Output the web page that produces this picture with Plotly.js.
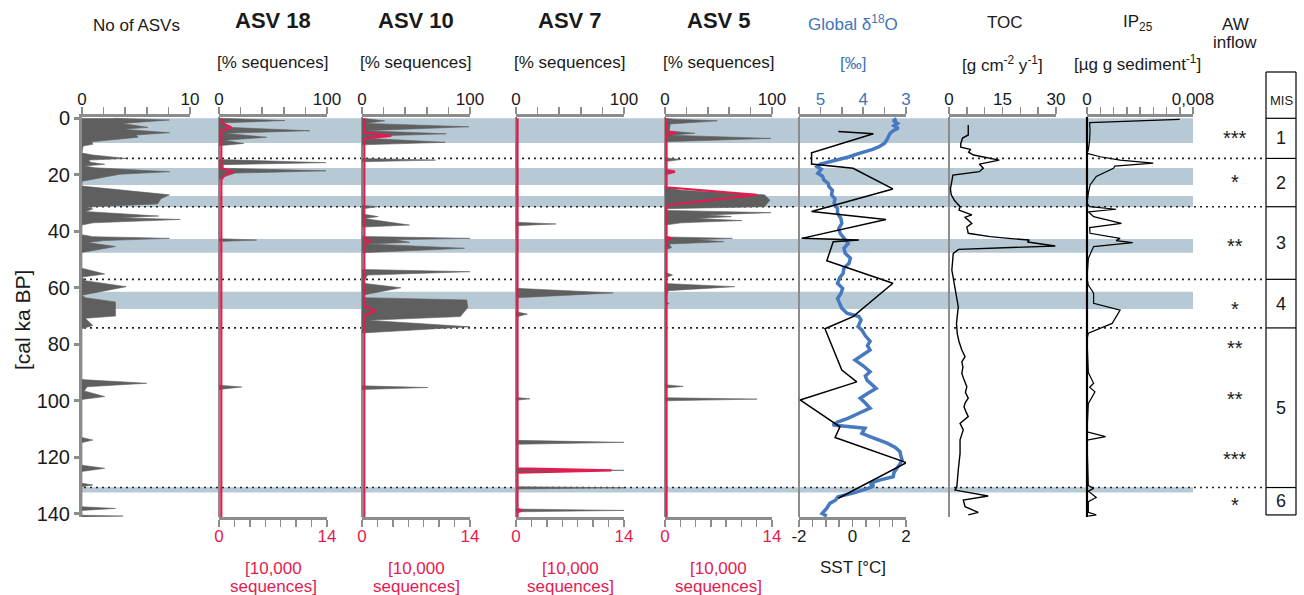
<!DOCTYPE html>
<html><head><meta charset="utf-8">
<script src="https://cdn.plot.ly/plotly-3.0.1.min.js"></script>
<style>html,body{margin:0;padding:0;background:#fff}#chart{width:1304px;height:595px}</style>
</head><body><div id="chart"></div>
<script>
// ---------------- DATA ----------------
const depthTicks = [0, 20, 40, 60, 80, 100, 120, 140];

// No of ASVs
const nAsvDepth = [0, 0.6, 1.8, 3.2, 3.9, 5.1, 5.9, 6.7, 8.3, 9.2, 9.8, 12.3, 13.0, 14.2, 14.8, 15.6, 16.3, 16.9, 17.5, 18.9, 19.8, 21.5, 22.3, 24.0, 27.1, 28.5, 30.3, 31.4, 32.1, 33.0, 34.6, 35.2, 35.8, 37.0, 37.8, 41.2, 41.9, 42.5, 43.3, 44.0, 45.4, 47.5, 53.1, 55.1, 56.2, 57.5, 59.6, 62.6, 63.5, 65.0, 70.0, 70.8, 73.3, 74.5, 92.5, 93.8, 95.0, 96.5, 98.5, 99.5, 113.0, 113.9, 114.8, 122.8, 123.9, 125.0, 129.2, 129.8, 130.4, 137.5, 138.1, 138.8, 140.5, 140.8, 141.1];
const nAsvVal   = [3.0, 8.1, 3.7, 6.1, 3.8, 8.1, 5.0, 5.2, 0.9, 1.0, 0.1, 0, 1.0, 4.1, 0.6, 0.8, 2.1, 0.2, 1.2, 8.1, 3.5, 1.0, 0, 0, 8.1, 7.3, 7.0, 0.5, 1.0, 0.3, 7.1, 3.5, 9.1, 1.0, 0, 0, 1.0, 8.1, 2.0, 0.5, 3.1, 0, 0, 2.1, 0, 0.3, 4.1, 0, 0.3, 3.1, 3.1, 0.3, 1.0, 0, 0, 6.0, 0.5, 0.2, 2.1, 0, 0, 1.0, 0, 0, 2.1, 0, 0, 1.0, 0, 0, 3.1, 0, 0, 3.8, 0];

// ASV 18
const asv18Depth = [0, 0.8, 1.6, 3.2, 4.4, 5.3, 6.7, 7.8, 8.9, 9.7, 14.6, 15.7, 16.4, 17.7, 18.6, 19.4, 20.5, 21.8, 42.6, 43.1, 43.6, 94.5, 95.1, 96.0];
const asv18Pct   = [0, 61, 5, 8, 84, 5, 44, 5, 23, 0, 0, 99, 4, 4, 99, 15, 6, 0, 0, 35, 0, 0, 21, 0];
const asv18SeqDepth = [0, 1.8, 3.2, 4.4, 17.7, 18.9, 20.1, 21.8, 141.1];
const asv18Seq      = [0.35, 0.4, 1.6, 0.3, 0.3, 1.9, 0.7, 0.3, 0.3];

// ASV 10
const asv10Depth = [0, 0.9, 1.8, 3.0, 4.4, 5.5, 6.2, 7.1, 8.5, 9.4, 14.2, 14.8, 15.4, 30.8, 31.3, 32.0, 34.0, 34.8, 35.5, 37.8, 38.5, 41.8, 42.5, 43.0, 43.9, 44.5, 46.0, 47.6, 53.5, 54.3, 55.5, 58.4, 60.0, 62.6, 63.5, 64.3, 67.0, 70.2, 71.5, 73.8, 76.0, 94.7, 95.3, 96.0];
const asv10Pct   = [0, 21, 3, 99, 3, 78, 18, 4, 77, 0, 0, 68, 0, 0, 14, 1, 2, 15, 2, 44, 0, 0, 100, 30, 44, 5, 95, 0, 0, 100, 5, 1, 36, 0, 3, 97, 98, 91, 5, 100, 0, 0, 61, 0];
const asv10SeqDepth = [0, 5.0, 6.2, 7.1, 42.8, 43.4, 44.0, 66.5, 68.2, 69.8, 141.1];
const asv10Seq      = [0.3, 0.3, 3.8, 0.3, 0.3, 1.25, 0.3, 0.3, 1.8, 0.3, 0.3];

// ASV 7
const asv7Depth = [0, 36.8, 37.4, 38.0, 60.2, 61.8, 63.5, 68.5, 69.3, 70.3, 98.8, 99.3, 99.8, 114.0, 114.7, 115.4, 124.0, 124.6, 125.2, 130.4, 130.8, 131.2, 138.3, 138.8, 139.3];
const asv7Pct   = [0, 0, 37, 0, 0, 90, 1, 0, 10.5, 0, 0, 13, 0, 0, 100, 0, 0, 100, 0, 0, 100, 0, 0, 100, 0];
const asv7SeqDepth = [0, 123.9, 124.6, 125.4, 138.2, 138.8, 139.4, 141.1];
const asv7Seq      = [0.2, 0.2, 12.4, 0.2, 0.2, 0.8, 0.2, 0.2];

// ASV 5
const asv5Depth = [0, 0.3, 0.9, 2.0, 4.5, 5.3, 6.0, 7.1, 8.3, 14.0, 14.6, 15.3, 18.2, 18.9, 19.8, 24.4, 25.5, 27.1, 29.0, 31.3, 32.0, 32.6, 33.4, 34.2, 34.8, 35.5, 36.2, 37.0, 37.8, 42.0, 42.5, 43.0, 43.7, 44.5, 45.8, 46.5, 54.5, 55.5, 56.5, 58.5, 59.6, 61.0, 65.0, 65.5, 66.0, 94.3, 94.9, 95.5, 98.9, 99.4, 100.0];
const asv5Pct   = [0, 8, 49, 5, 4, 28, 5, 99, 0, 0, 15, 0, 0, 9, 0, 0, 15, 93, 98, 93, 0, 2, 99, 40, 62, 30, 72, 15, 0, 0, 63, 30, 55, 4, 6, 0, 0, 7, 0, 0, 65, 3, 0, 4, 0, 0, 17, 0, 0, 86, 0];
const asv5SeqDepth = [0, 4.6, 5.2, 5.8, 18.3, 18.9, 19.7, 24.4, 27.1, 30.7, 31.5, 42.0, 42.5, 43.0, 141.1];
const asv5Seq      = [0.2, 0.2, 1.5, 0.2, 0.2, 1.3, 0.2, 0.2, 12.0, 0.4, 0.2, 0.2, 0.9, 0.2, 0.2];

// Global d18O (permil)
const d18Depth = [0.2, 0.8, 1.8, 2.6, 3.5, 4.4, 5.3, 6.5, 7.7, 8.8, 10.0, 11.0, 11.8, 12.7, 13.6, 14.5, 15.4, 16.2, 17.1, 18.0, 19.5, 20.5, 21.8, 23.0, 24.2, 25.5, 27.1, 28.5, 30.1, 32.0, 33.6, 35.5, 37.2, 39.0, 40.7, 42.5, 44.3, 46.0, 47.8, 49.5, 51.3, 53.0, 54.9, 56.5, 58.4, 60.2, 62.0, 63.8, 65.5, 67.2, 69.0, 70.2, 71.4, 73.7, 75.0, 77.0, 78.9, 80.5, 82.0, 83.8, 85.6, 87.6, 89.7, 91.2, 92.7, 94.2, 95.6, 97.4, 99.1, 100.8, 102.6, 104.4, 106.2, 107.5, 108.6, 109.7, 111.5, 113.2, 115.0, 116.5, 118.0, 119.5, 121.0, 122.5, 123.9, 125.4, 126.9, 128.0, 129.2, 130.1, 131.0, 132.5, 134.0, 135.2, 136.3, 138.0, 139.9, 140.8];
const d18Val   = [3.22, 3.3, 3.2, 3.28, 3.18, 3.3, 3.37, 3.4, 3.45, 3.5, 3.62, 3.78, 3.98, 4.15, 4.32, 4.55, 4.85, 5.0, 5.08, 4.98, 5.06, 4.95, 4.92, 4.82, 4.8, 4.72, 4.74, 4.66, 4.68, 4.6, 4.6, 4.52, 4.5, 4.57, 4.54, 4.45, 4.35, 4.45, 4.42, 4.3, 4.33, 4.45, 4.47, 4.55, 4.6, 4.48, 4.52, 4.6, 4.54, 4.5, 4.38, 4.1, 4.05, 4.12, 4.03, 3.95, 3.84, 3.9, 3.84, 4.0, 4.19, 4.0, 3.84, 3.95, 3.91, 3.8, 3.7, 3.9, 4.07, 3.95, 3.84, 4.1, 4.36, 4.6, 4.71, 3.96, 4.03, 3.75, 3.44, 3.25, 3.14, 3.12, 3.09, 3.15, 3.21, 3.28, 3.3, 3.6, 3.84, 3.75, 3.89, 4.2, 4.59, 4.65, 4.78, 4.85, 4.96, 4.85];

// SST (deg C)
const sstDepth = [4.7, 5.5, 12.2, 16.2, 17.7, 25.0, 33.0, 35.8, 42.5, 43.1, 43.7, 50.4, 58.4, 70.2, 74.5, 89.1, 93.3, 99.7, 109.2, 113.0, 121.9, 134.5];
const sstVal   = [-0.53, 0.78, -1.53, -1.53, 0.02, 1.51, -1.53, 1.25, -1.9, 0.24, -0.72, -0.96, 1.51, 0.02, -1.03, -0.4, 0.16, -1.96, -0.47, -0.65, 2.02, -0.53];

// TOC (g cm-2 y-1)
const tocDepth = [2.4, 5.9, 7.0, 9.0, 10.2, 11.0, 12.0, 13.0, 14.8, 16.2, 17.7, 18.9, 20.1, 22.0, 25.0, 27.0, 29.0, 31.3, 32.5, 34.2, 35.0, 37.2, 38.5, 40.7, 41.9, 42.6, 43.1, 43.8, 44.3, 45.2, 46.4, 47.8, 53.7, 59.6, 66.7, 72.6, 76.1, 79.0, 82.0, 84.4, 86.2, 88.0, 90.3, 92.5, 95.0, 97.0, 99.1, 100.5, 102.1, 104.0, 105.6, 108.0, 110.3, 113.8, 118.6, 124.5, 130.4, 131.6, 133.7, 135.1, 137.5, 139.5, 140.4];
const tocVal   = [5.4, 5.4, 3.8, 3.3, 3.3, 6.0, 5.5, 6.9, 14.1, 8.5, 9.6, 8.5, 1.1, 0.9, 0.4, 0.6, 1.5, 3.1, 2.8, 6.4, 4.5, 6.4, 5.0, 5.4, 11.5, 17.5, 22.5, 22.0, 24.8, 29.8, 2.7, 1.2, 0.8, 1.7, 2.6, 2.1, 2.3, 2.8, 3.6, 4.5, 3.6, 3.9, 3.6, 4.2, 5.0, 4.6, 5.4, 4.6, 4.2, 4.8, 5.4, 3.1, 4.0, 3.1, 3.1, 2.6, 2.2, 1.7, 11.0, 4.0, 4.5, 8.2, 5.4];

// IP25 (ug g sediment-1)
const ipDepth = [0.35, 1.55, 4.1, 7.7, 11.2, 12.4, 13.6, 14.8, 15.9, 16.9, 17.7, 20.6, 23.6, 26.5, 30.1, 31.3, 32.2, 33.1, 34.8, 37.2, 38.7, 40.7, 42.5, 43.3, 44.0, 44.7, 45.4, 49.6, 56.6, 59.0, 61.9, 65.5, 67.9, 72.6, 76.1, 78.1, 90.0, 93.8, 95.2, 96.8, 101.0, 111.0, 112.7, 113.9, 130.0, 131.0, 132.0, 134.2, 135.7, 139.5, 140.4, 140.8];
const ipVal   = [0.0070, 0.0002, 0.00023, 0.0002, 0.0001, 0.0, 0.001, 0.0025, 0.0050, 0.0021, 0.002, 0.0007, 0.00023, 0.0001, 0.0, 0.0002, 0.0022, 0.0001, 0.0005, 0.0026, 0.0002, 0.00023, 0.0025, 0.0022, 0.00345, 0.0021, 0.0005, 0.0001, 0.0, 0.0001, 0.0005, 0.0005, 0.0025, 0.0019, 0.0001, 0.0, 0.0001, 0.0005, 0.0002, 0.0006, 0.0001, 0.0, 0.0014, 0.0, 0.0001, 0.0005, 0.0001, 0.0007, 0.0001, 0.0001, 0.0007, 0.0001];

// shaded intervals, boundaries, MIS, AW inflow
const bandStart = [0, 17.6, 27.5, 42.7, 61.4, 130.6];
const bandEnd   = [8.7, 23.6, 31.4, 47.6, 67.5, 132.5];
const dottedDepth = [14.2, 31.3, 57.0, 74.2, 130.7];
const misBounds = [0, 14.2, 31.3, 57.0, 74.2, 130.7, 140.4];
const misLabels = ['1', '2', '3', '4', '5', '6'];
const awDepth = [6.3, 21.8, 44.5, 66.8, 80.6, 98.6, 119.8, 136.2];
const awStars = ['***', '*', '**', '*', '**', '**', '***', '*'];

// ---------------- STYLE / LAYOUT ----------------
const W = 1304, PT = 117, PB = 517;
const FONT = 'Liberation Sans, Arial, Helvetica, sans-serif';
const GREY = '#5f5f5f', RED = '#e31c4f', BLUE = '#3e74ba', BLUEL = '#4679bf', AXIS = '#8c8c8c', BAND = '#b6c9d4', INK = '#1a1a1a';
const py = p => (PB - p) / (PB - PT);
const dom = (a, b) => [a / W, b / W];

function ax(extra) {
  return Object.assign({
    showgrid: false, zeroline: false, showline: true, linecolor: AXIS, linewidth: 3,
    ticks: 'outside', ticklen: 7, tickwidth: 1.5, tickcolor: AXIS, ticklabelstandoff: -5,
    tickfont: {size: 17, color: INK}, anchor: 'y', fixedrange: true
  }, extra);
}
const range = (a, b, s) => { const r = []; for (let v = a; v <= b + 1e-9; v += s) r.push(+v.toFixed(6)); return r; };
const ends = (n, first, last) => { const t = Array(n).fill(''); t[0] = first; t[n - 1] = last; return t; };

const pctTicks = range(0, 100, 20), seqTicks = range(0, 14, 2);
const asvPanels = [
  {name: 'ASV 18', dom: dom(219, 327)},
  {name: 'ASV 10', dom: dom(362, 470)},
  {name: 'ASV 7', dom: dom(516, 624)},
  {name: 'ASV 5', dom: dom(665, 772)}
];

const layout = {
  width: 1304, height: 595, margin: {l: 0, r: 0, t: PT, b: 595 - PB},
  paper_bgcolor: '#ffffff', plot_bgcolor: 'rgba(0,0,0,0)', showlegend: false,
  font: {family: FONT, color: INK},
  yaxis: {domain: [0, 1], range: [141.13, -0.46], anchor: 'x', showline: true, linecolor: AXIS, linewidth: 3,
          ticks: 'outside', ticklen: 5, tickwidth: 3, tickcolor: AXIS, tickvals: depthTicks,
          tickfont: {size: 20, color: INK}, showgrid: false, zeroline: false, fixedrange: true},
  xaxis: ax({domain: dom(82, 190), range: [0, 10], side: 'top', tickvals: range(0, 10, 2), ticktext: ends(6, '0', '10')}),
  xaxis10: ax({domain: dom(799, 906), range: [5.5, 3], side: 'top', tickvals: range(3, 5.5, 0.5), ticktext: ['3', '', '4', '', '5', ''], tickfont: {size: 17, color: BLUE}}),
  xaxis11: ax({overlaying: 'x10', range: [-2, 2], side: 'bottom', tickvals: range(-2, 2, 0.5), ticktext: ['-2', '', '', '', '0', '', '', '', '2']}),
  xaxis12: ax({domain: dom(949, 1056), range: [0, 30], side: 'top', tickvals: range(0, 30, 5), ticktext: ['0', '', '', '15', '', '', '30']}),
  xaxis13: ax({domain: dom(1087, 1193), range: [0, 0.008], side: 'top', tickvals: range(0, 0.008, 0.001), ticktext: ends(9, '0', '0,008')}),
  shapes: [], annotations: []
};
asvPanels.forEach((p, i) => {
  const top = 2 + 2 * i, bot = 3 + 2 * i;
  layout['xaxis' + top] = ax({domain: p.dom, range: [0, 100], side: 'top', tickvals: pctTicks, ticktext: ends(6, '0', '100')});
  layout['xaxis' + bot] = ax({overlaying: 'x' + top, range: [0, 14], side: 'bottom', tickvals: seqTicks, ticktext: ends(8, '0', '14'), tickfont: {size: 17, color: RED}});
});

// ---------------- TRACES ----------------
const traces = [];
const fillTrace = (x, y, xa) => ({type: 'scatter', mode: 'lines', x: x, y: y, xaxis: xa, yaxis: 'y', fill: 'tozerox', fillcolor: GREY, line: {color: GREY, width: 0.6}, hoverinfo: 'skip'});
const lineTrace = (x, y, xa, color, w) => ({type: 'scatter', mode: 'lines', x: x, y: y, xaxis: xa, yaxis: 'y', line: {color: color, width: w}, hoverinfo: 'skip'});

traces.push(fillTrace(nAsvVal, nAsvDepth, 'x'));
const asvData = [
  [asv18Pct, asv18Depth, asv18Seq, asv18SeqDepth],
  [asv10Pct, asv10Depth, asv10Seq, asv10SeqDepth],
  [asv7Pct, asv7Depth, asv7Seq, asv7SeqDepth],
  [asv5Pct, asv5Depth, asv5Seq, asv5SeqDepth]
];
asvData.forEach((d, i) => {
  traces.push(fillTrace(d[0], d[1], 'x' + (2 + 2 * i)));
  traces.push(lineTrace(d[2], d[3], 'x' + (3 + 2 * i), RED, 2.2));
});
traces.push(lineTrace(d18Val, d18Depth, 'x10', BLUEL, 3.5));
traces.push(lineTrace(sstVal, sstDepth, 'x11', '#000', 1.5));
traces.push(lineTrace(tocVal, tocDepth, 'x12', '#000', 1.4));
traces.push(lineTrace(ipVal, ipDepth, 'x13', '#000', 1.2));

// ---------------- SHAPES ----------------
const S = layout.shapes;
bandStart.forEach((b, i) => S.push({type: 'rect', xref: 'paper', yref: 'y', x0: 82 / W, x1: 1193 / W, y0: b, y1: bandEnd[i], fillcolor: BAND, line: {width: 0}, layer: 'below'}));
dottedDepth.forEach(d => S.push({type: 'line', xref: 'paper', yref: 'y', x0: 84 / W, x1: 1263 / W, y0: d, y1: d, line: {color: '#222', width: 1.6, dash: '2px,4px'}, layer: 'below'}));
['x2', 'x4', 'x6', 'x8', 'x10', 'x12'].forEach(a => S.push({type: 'line', xref: a + ' domain', yref: 'paper', x0: 0, x1: 0, y0: 0, y1: 1, line: {color: AXIS, width: 2}, layer: 'below'}));
S.push({type: 'line', xref: 'x13 domain', yref: 'paper', x0: 0, x1: 0, y0: 0, y1: 1, line: {color: '#000', width: 2.2}});
// MIS column
const mx0 = 1266 / W, mx1 = 1296 / W;
S.push({type: 'line', xref: 'paper', yref: 'paper', x0: mx0, x1: mx0, y0: py(515), y1: py(72), line: {color: '#000', width: 1.2}});
S.push({type: 'line', xref: 'paper', yref: 'paper', x0: mx1, x1: mx1, y0: py(515), y1: py(72), line: {color: '#000', width: 1.2}});
S.push({type: 'line', xref: 'paper', yref: 'paper', x0: mx0, x1: mx1, y0: py(72), y1: py(72), line: {color: '#000', width: 1.2}});
misBounds.forEach(b => S.push({type: 'line', xref: 'paper', yref: 'y', x0: mx0, x1: mx1, y0: b, y1: b, line: {color: '#000', width: 1.2}}));

// ---------------- ANNOTATIONS ----------------
const A = layout.annotations;
const ann = (o) => A.push(Object.assign({showarrow: false, xanchor: 'center', yanchor: 'middle'}, o));
ann({xref: 'x domain', x: 0.5, yref: 'paper', y: py(25), text: 'No of ASVs', font: {size: 17, color: INK}});
asvPanels.forEach((p, i) => {
  const a = 'x' + (2 + 2 * i) + ' domain';
  ann({xref: a, x: 0.5, yref: 'paper', y: py(20), text: '<b>' + p.name + '</b>', font: {size: 22, color: INK}});
  ann({xref: a, x: 0.5, yref: 'paper', y: py(62), text: '[% sequences]', font: {size: 17, color: INK}});
  ann({xref: a, x: 0.5, yref: 'paper', y: py(568), text: '[10,000', font: {size: 17, color: RED}});
  ann({xref: a, x: 0.5, yref: 'paper', y: py(586), text: 'sequences]', font: {size: 17, color: RED}});
});
ann({xref: 'x10 domain', x: 0.5, yref: 'paper', y: py(23), text: 'Global δ<sup>18</sup>O', font: {size: 17, color: BLUE}});
ann({xref: 'x10 domain', x: 0.5, yref: 'paper', y: py(63), text: '[‰]', font: {size: 17, color: BLUE}});
ann({xref: 'x10 domain', x: 0.5, yref: 'paper', y: py(567), text: 'SST [°C]', font: {size: 17, color: INK}});
ann({xref: 'x12 domain', x: 0.52, yref: 'paper', y: py(23), text: 'TOC', font: {size: 17, color: INK}});
ann({xref: 'x12 domain', x: 0.5, yref: 'paper', y: py(64), text: '[g cm<sup>-2</sup> y<sup>-1</sup>]', font: {size: 17, color: INK}});
ann({xref: 'x13 domain', x: 0.48, yref: 'paper', y: py(23), text: 'IP<sub>25</sub>', font: {size: 17, color: INK}});
ann({xref: 'x13 domain', x: 0.48, yref: 'paper', y: py(63), text: '[µg g sediment<sup>-1</sup>]', font: {size: 17, color: INK}});
ann({xref: 'paper', x: 1235 / W, yref: 'paper', y: py(24), text: 'AW', font: {size: 17, color: INK}});
ann({xref: 'paper', x: 1235 / W, yref: 'paper', y: py(43), text: 'inflow', font: {size: 17, color: INK}});
ann({xref: 'paper', x: 1281 / W, yref: 'paper', y: py(100), text: 'MIS', font: {size: 13, color: INK}});
ann({xref: 'paper', x: 22 / W, yref: 'paper', y: py(320), text: '[cal ka BP]', textangle: -90, font: {size: 21, color: INK}});
misLabels.forEach((m, i) => ann({xref: 'paper', x: 1281 / W, yref: 'y', y: (misBounds[i] + misBounds[i + 1]) / 2, text: m, font: {size: 18, color: INK}}));
awStars.forEach((s, i) => ann({xref: 'paper', x: 1235 / W, yref: 'y', y: awDepth[i], yshift: -2, text: s, font: {size: 20, color: INK}}));

Plotly.newPlot('chart', traces, layout, {staticPlot: true, displayModeBar: false});
</script></body></html>
